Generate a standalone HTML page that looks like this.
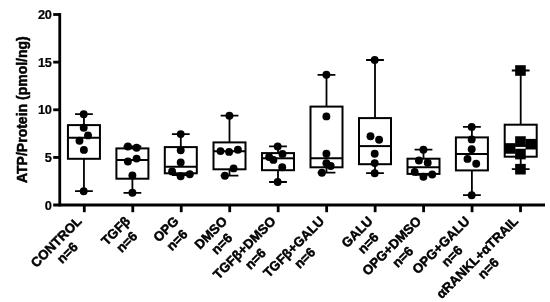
<!DOCTYPE html>
<html lang="en"><head><meta charset="utf-8"><title>ATP/Protein box plot</title>
<style>html,body{margin:0;padding:0;background:#fff}svg{display:block}text{font-family:"Liberation Sans",Arial,Helvetica,sans-serif;font-weight:bold;fill:#000;stroke:#000;stroke-width:0.5px;stroke-linejoin:round}text.tk{stroke-width:0.2px;letter-spacing:-0.35px}</style></head><body>
<svg width="550" height="302" viewBox="0 0 550 302">
<rect width="550" height="302" fill="#fff"/>
<g stroke="#000" stroke-width="2.8" fill="none">
<path d="M59.75 13.10V206.40"/>
<path d="M53.2 205.00H545"/>
<path d="M53.2 14.50H59.75"/>
<path d="M53.2 62.15H59.75"/>
<path d="M53.2 109.80H59.75"/>
<path d="M53.2 157.45H59.75"/>
<path d="M84.30 205.00V212.2"/>
<path d="M132.77 205.00V212.2"/>
<path d="M181.24 205.00V212.2"/>
<path d="M229.71 205.00V212.2"/>
<path d="M278.18 205.00V212.2"/>
<path d="M326.65 205.00V212.2"/>
<path d="M375.12 205.00V212.2"/>
<path d="M423.59 205.00V212.2"/>
<path d="M472.06 205.00V212.2"/>
<path d="M520.53 205.00V212.2"/>
</g>
<text class="tk" transform="translate(51.6 19.00) scale(0.95 1)" font-size="13.5" text-anchor="end">20</text>
<text class="tk" transform="translate(51.6 66.65) scale(0.95 1)" font-size="13.5" text-anchor="end">15</text>
<text class="tk" transform="translate(51.6 114.30) scale(0.95 1)" font-size="13.5" text-anchor="end">10</text>
<text class="tk" transform="translate(51.6 161.95) scale(0.95 1)" font-size="13.5" text-anchor="end">5</text>
<text class="tk" transform="translate(51.6 209.50) scale(0.95 1)" font-size="13.5" text-anchor="end">0</text>
<text transform="translate(27.1 183) rotate(-90)" font-size="14">ATP/Protein (pmol/ng)</text>
<g stroke="#000" stroke-width="2.0" fill="none">
<path stroke-width="1.8" d="M83.95 114.2V125.1M83.95 158.8V191.2M75.05 114.2H92.85M75.05 191.2H92.85"/>
<path d="M67.95 137.8H99.95"/>
<rect x="67.95" y="125.1" width="32.0" height="33.70"/>
<path stroke-width="1.8" d="M132.4 146.5V148.4M132.4 178.7V192.8M123.50 146.5H141.30M123.50 192.8H141.30"/>
<path d="M116.40 159.9H148.40"/>
<rect x="116.40" y="148.4" width="32.0" height="30.30"/>
<path stroke-width="1.8" d="M180.8 134.1V147.1M180.8 173.3V175.0M171.90 134.1H189.70M171.90 175.0H189.70"/>
<path d="M164.80 166.7H196.80"/>
<rect x="164.80" y="147.1" width="32.0" height="26.20"/>
<path stroke-width="1.8" d="M229.5 115.7V142.4M229.5 169.3V175.6M220.60 115.7H238.40M220.60 175.6H238.40"/>
<path d="M213.50 151.3H245.50"/>
<rect x="213.50" y="142.4" width="32.0" height="26.90"/>
<path stroke-width="1.8" d="M278.0 146.4V153.1M278.0 170.2V182.0M269.10 146.4H286.90M269.10 182.0H286.90"/>
<path d="M262.00 158.3H294.00"/>
<rect x="262.00" y="153.1" width="32.0" height="17.10"/>
<path stroke-width="1.8" d="M326.5 74.8V106.6M326.5 167.3V172.6M317.60 74.8H335.40M317.60 172.6H335.40"/>
<path d="M310.50 158.2H342.50"/>
<rect x="310.50" y="106.6" width="32.0" height="60.70"/>
<path stroke-width="1.8" d="M375.0 60.0V118.1M375.0 164.2V173.2M366.10 60.0H383.90M366.10 173.2H383.90"/>
<path d="M359.00 146.1H391.00"/>
<rect x="359.00" y="118.1" width="32.0" height="46.10"/>
<path stroke-width="1.8" d="M423.5 149.7V158.7M423.5 173.9V174.9M414.60 149.7H432.40M414.60 174.9H432.40"/>
<path d="M407.50 167.2H439.50"/>
<rect x="407.50" y="158.7" width="32.0" height="15.20"/>
<path stroke-width="1.8" d="M471.9 126.9V137.4M471.9 170.4V195.2M463.00 126.9H480.80M463.00 195.2H480.80"/>
<path d="M455.90 154.1H487.90"/>
<rect x="455.90" y="137.4" width="32.0" height="33.00"/>
<path stroke-width="1.8" d="M520.7 70.5V124.7M520.7 156.7V169.2M511.80 70.5H529.60M511.80 169.2H529.60"/>
<path d="M504.70 145.6H536.70"/>
<rect x="504.70" y="124.7" width="32.0" height="32.00"/>
</g>
<g fill="#000">
<circle cx="83.7" cy="114.2" r="3.95"/>
<circle cx="83.7" cy="127.7" r="3.95"/>
<circle cx="88" cy="135.4" r="3.95"/>
<circle cx="79.5" cy="140.8" r="3.95"/>
<circle cx="83.9" cy="149.9" r="3.95"/>
<circle cx="83.7" cy="191.2" r="3.95"/>
<circle cx="127.9" cy="146.5" r="3.95"/>
<circle cx="136.6" cy="147.8" r="3.95"/>
<circle cx="136.6" cy="158.6" r="3.95"/>
<circle cx="127.9" cy="161.5" r="3.95"/>
<circle cx="132.4" cy="175.4" r="3.95"/>
<circle cx="132.4" cy="192.8" r="3.95"/>
<circle cx="180.7" cy="134.1" r="3.95"/>
<circle cx="180.7" cy="150.3" r="3.95"/>
<circle cx="180.7" cy="162.5" r="3.95"/>
<circle cx="172.1" cy="171.4" r="3.95"/>
<circle cx="189.8" cy="174.3" r="3.95"/>
<circle cx="180.6" cy="176.2" r="3.95"/>
<circle cx="229.4" cy="115.7" r="3.95"/>
<circle cx="220.5" cy="151.1" r="3.95"/>
<circle cx="229.1" cy="151.9" r="3.95"/>
<circle cx="237.9" cy="149.7" r="3.95"/>
<circle cx="233.6" cy="168.4" r="3.95"/>
<circle cx="224.9" cy="175.8" r="3.95"/>
<circle cx="277.7" cy="146.4" r="3.95"/>
<circle cx="282.5" cy="153.9" r="3.95"/>
<circle cx="269.1" cy="157.0" r="3.95"/>
<circle cx="273.4" cy="159.9" r="3.95"/>
<circle cx="282.2" cy="167.2" r="3.95"/>
<circle cx="277.7" cy="182.0" r="3.95"/>
<circle cx="326.4" cy="74.8" r="3.95"/>
<circle cx="326.4" cy="116.4" r="3.95"/>
<circle cx="326.4" cy="153.7" r="3.95"/>
<circle cx="326.4" cy="163.2" r="3.95"/>
<circle cx="330.7" cy="166.0" r="3.95"/>
<circle cx="321.9" cy="172.8" r="3.95"/>
<circle cx="374.7" cy="60.0" r="3.95"/>
<circle cx="370.5" cy="136.2" r="3.95"/>
<circle cx="379.1" cy="139.8" r="3.95"/>
<circle cx="374.7" cy="153.8" r="3.95"/>
<circle cx="374.7" cy="163.1" r="3.95"/>
<circle cx="374.7" cy="173.2" r="3.95"/>
<circle cx="423.4" cy="149.7" r="3.95"/>
<circle cx="418.9" cy="160.5" r="3.95"/>
<circle cx="427.7" cy="162.7" r="3.95"/>
<circle cx="414.7" cy="171.9" r="3.95"/>
<circle cx="432.2" cy="174.5" r="3.95"/>
<circle cx="423.4" cy="176.7" r="3.95"/>
<circle cx="471.7" cy="126.9" r="3.95"/>
<circle cx="471.7" cy="139.4" r="3.95"/>
<circle cx="471.7" cy="149.3" r="3.95"/>
<circle cx="467.5" cy="158.9" r="3.95"/>
<circle cx="476.2" cy="163.7" r="3.95"/>
<circle cx="471.7" cy="195.2" r="3.95"/>
<rect x="515.15" y="65.20" width="10.6" height="10.6"/>
<rect x="515.15" y="136.25" width="10.6" height="10.6"/>
<rect x="525.50" y="138.90" width="10.9" height="10.6"/>
<rect x="504.50" y="143.15" width="10.9" height="10.6"/>
<rect x="515.15" y="148.75" width="10.6" height="10.6"/>
<rect x="515.15" y="163.90" width="10.6" height="10.6"/>
</g>
<g transform="translate(82.60 221.9) rotate(-45)" font-size="13.25"><text x="0" y="0" text-anchor="end">CONTROL</text><text x="-32.75" y="15.6" text-anchor="middle">n=6</text></g>
<g transform="translate(131.10 221.9) rotate(-45)" font-size="13.25"><text x="0" y="0" text-anchor="end">TGFβ</text><text x="-17.29" y="15.6" text-anchor="middle">n=6</text></g>
<g transform="translate(179.60 221.9) rotate(-45)" font-size="13.25"><text x="0" y="0" text-anchor="end">OPG</text><text x="-14.73" y="15.6" text-anchor="middle">n=6</text></g>
<g transform="translate(228.10 221.9) rotate(-45)" font-size="13.25"><text x="0" y="0" text-anchor="end">DMSO</text><text x="-19.88" y="15.6" text-anchor="middle">n=6</text></g>
<g transform="translate(276.60 221.9) rotate(-45)" font-size="13.25"><text x="0" y="0" text-anchor="end">TGFβ+DMSO</text><text x="-41.03" y="15.6" text-anchor="middle">n=6</text></g>
<g transform="translate(325.10 221.9) rotate(-45)" font-size="13.25"><text x="0" y="0" text-anchor="end">TGFβ+GALU</text><text x="-39.93" y="15.6" text-anchor="middle">n=6</text></g>
<g transform="translate(373.60 221.9) rotate(-45)" font-size="13.25"><text x="0" y="0" text-anchor="end">GALU</text><text x="-18.77" y="15.6" text-anchor="middle">n=6</text></g>
<g transform="translate(422.10 221.9) rotate(-45)" font-size="13.25"><text x="0" y="0" text-anchor="end">OPG+DMSO</text><text x="-38.47" y="15.6" text-anchor="middle">n=6</text></g>
<g transform="translate(470.60 221.9) rotate(-45)" font-size="13.25"><text x="0" y="0" text-anchor="end">OPG+GALU</text><text x="-37.36" y="15.6" text-anchor="middle">n=6</text></g>
<g transform="translate(519.10 221.9) rotate(-45)" font-size="13.25"><text x="0" y="0" text-anchor="end">αRANKL+αTRAIL</text><text x="-54.70" y="15.6" text-anchor="middle">n=6</text></g>
</svg></body></html>
